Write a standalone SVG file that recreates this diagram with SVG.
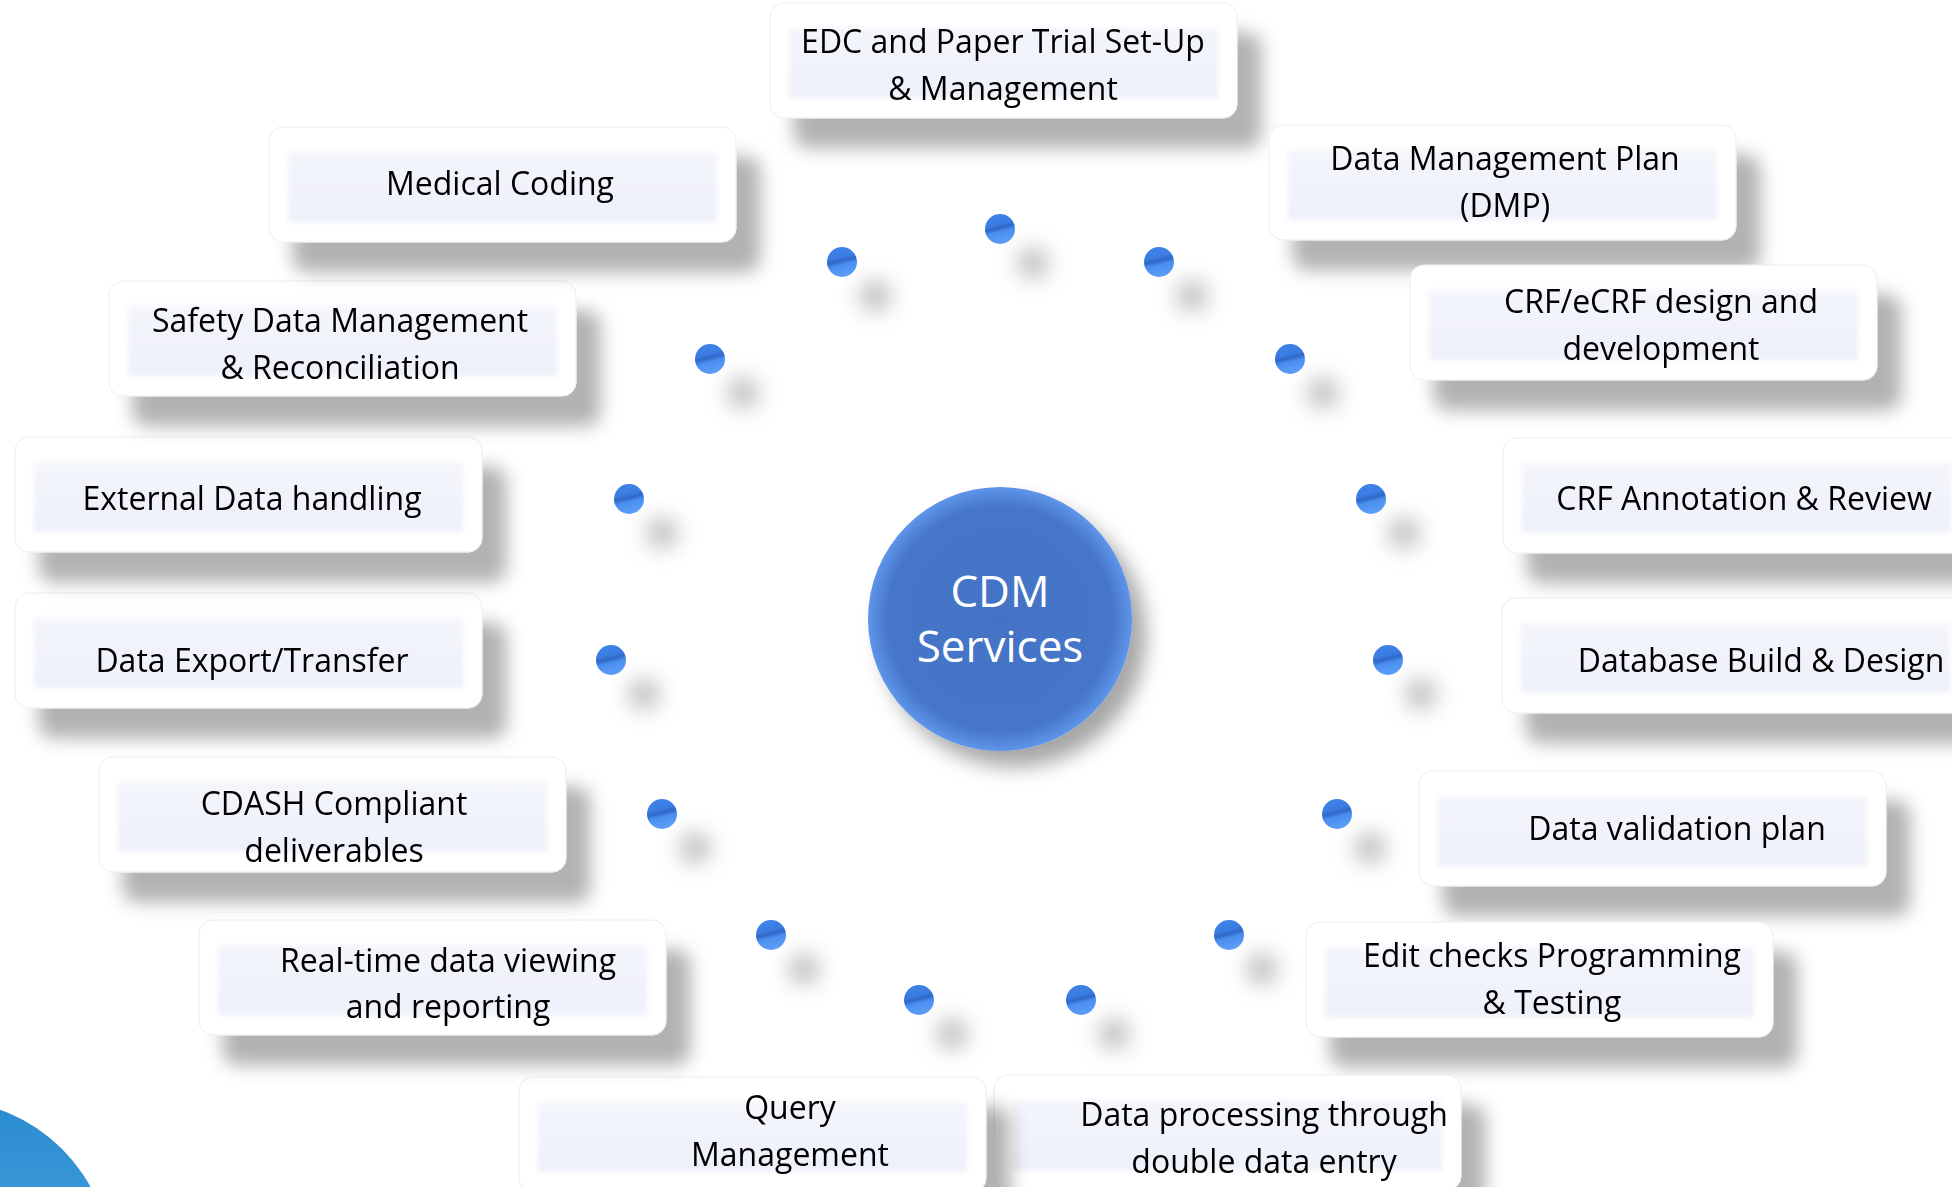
<svg xmlns="http://www.w3.org/2000/svg" width="1952" height="1187" viewBox="0 0 1952 1187">
<style>
.outer{fill:#ffffff;stroke:#ececf2;stroke-width:1}
.inner{fill:url(#panelGrad);filter:url(#soft)}
.box{filter:url(#boxShadow)}
.lbl{font-family:"Open Sans","Liberation Sans",sans-serif;font-size:32px;fill:#000;text-anchor:middle}
.dot{fill:url(#dotGrad);filter:url(#dotShadow)}
.hubtxt{font-family:"Open Sans","Liberation Sans",sans-serif;font-size:44px;fill:#fff;text-anchor:middle}
</style>
<defs>
<filter id="boxShadow" x="-10%" y="-20%" width="130%" height="180%">
<feDropShadow dx="24" dy="30" stdDeviation="9" flood-color="#000" flood-opacity="0.3"/>
</filter>
<filter id="soft" x="-5%" y="-10%" width="110%" height="120%">
<feGaussianBlur stdDeviation="2.5"/>
</filter>
<filter id="dotShadow" x="-150%" y="-150%" width="600%" height="600%">
<feDropShadow dx="33" dy="34" stdDeviation="11" flood-color="#000" flood-opacity="0.28"/>
</filter>
<filter id="hubShadow" x="-30%" y="-30%" width="170%" height="170%">
<feDropShadow dx="14" dy="16" stdDeviation="10" flood-color="#000" flood-opacity="0.35"/>
</filter>
<linearGradient id="panelGrad" x1="0" y1="0" x2="0" y2="1">
<stop offset="0" stop-color="#f4f5fc"/>
<stop offset="1" stop-color="#eef0fa"/>
</linearGradient>
<linearGradient id="dotGrad" x1="0" y1="0" x2="0.25" y2="1">
<stop offset="0" stop-color="#3f84ea"/>
<stop offset="0.42" stop-color="#3a7ce2"/>
<stop offset="0.55" stop-color="#3068c6"/>
<stop offset="0.68" stop-color="#4a8ef0"/>
<stop offset="1" stop-color="#5a9cf5"/>
</linearGradient>
<radialGradient id="hubGrad" cx="0.5" cy="0.5" r="0.5">
<stop offset="0" stop-color="#4472c4"/>
<stop offset="0.85" stop-color="#4676c8"/>
<stop offset="1" stop-color="#5f95ea"/>
</radialGradient>
<linearGradient id="cornerGrad" x1="0" y1="0" x2="0" y2="1">
<stop offset="0" stop-color="#2a8bd0"/>
<stop offset="1" stop-color="#5db5e5"/>
</linearGradient>
</defs>
<rect width="1952" height="1187" fill="#ffffff"/>
<circle id="corner" cx="-56" cy="1267" r="167" fill="url(#cornerGrad)"/>
<g id="connectors"></g>
<g id="dots">
<circle class="dot" cx="1000" cy="229" r="15"/>
<circle class="dot" cx="1159" cy="262" r="15"/>
<circle class="dot" cx="1290" cy="359" r="15"/>
<circle class="dot" cx="1371" cy="499" r="15"/>
<circle class="dot" cx="1388" cy="660" r="15"/>
<circle class="dot" cx="1337" cy="814" r="15"/>
<circle class="dot" cx="1229" cy="935" r="15"/>
<circle class="dot" cx="1081" cy="1000" r="15"/>
<circle class="dot" cx="919" cy="1000" r="15"/>
<circle class="dot" cx="771" cy="935" r="15"/>
<circle class="dot" cx="662" cy="814" r="15"/>
<circle class="dot" cx="611" cy="660" r="15"/>
<circle class="dot" cx="629" cy="499" r="15"/>
<circle class="dot" cx="710" cy="359" r="15"/>
<circle class="dot" cx="842" cy="262" r="15"/>
</g>
<g id="hub">
<circle cx="1000" cy="619" r="132" fill="url(#hubGrad)" filter="url(#hubShadow)"/>
<text class="hubtxt" x="1000" y="607">CDM</text>
<text class="hubtxt" x="1000" y="662">Services</text>
</g>
<g id="n-edc" class="box">
<rect class="outer" x="770" y="3" width="467" height="115" rx="14"/>
<rect class="inner" x="789" y="28" width="429" height="70"/>
<text class="lbl" x="1003" y="53">EDC and Paper Trial Set-Up</text>
<text class="lbl" x="1003" y="100">&amp; Management</text>
</g>
<g id="n-dmp" class="box">
<rect class="outer" x="1269" y="125" width="467" height="115" rx="14"/>
<rect class="inner" x="1288" y="150" width="429" height="70"/>
<text class="lbl" x="1505" y="170">Data Management Plan</text>
<text class="lbl" x="1505" y="217">(DMP)</text>
</g>
<g id="n-crf" class="box">
<rect class="outer" x="1410" y="265" width="467" height="115" rx="14"/>
<rect class="inner" x="1429" y="290" width="429" height="70"/>
<text class="lbl" x="1661" y="313">CRF/eCRF design and</text>
<text class="lbl" x="1661" y="360">development</text>
</g>
<g id="n-annot" class="box">
<rect class="outer" x="1503" y="438" width="467" height="115" rx="14"/>
<rect class="inner" x="1522" y="463" width="429" height="70"/>
<text class="lbl" x="1744" y="510">CRF Annotation &amp; Review</text>
</g>
<g id="n-db" class="box">
<rect class="outer" x="1502" y="598" width="467" height="115" rx="14"/>
<rect class="inner" x="1521" y="623" width="429" height="70"/>
<text class="lbl" x="1761" y="672">Database Build &amp; Design</text>
</g>
<g id="n-dvp" class="box">
<rect class="outer" x="1419" y="771" width="467" height="115" rx="14"/>
<rect class="inner" x="1438" y="796" width="429" height="70"/>
<text class="lbl" x="1677" y="840">Data validation plan</text>
</g>
<g id="n-edit" class="box">
<rect class="outer" x="1306" y="922" width="467" height="115" rx="14"/>
<rect class="inner" x="1325" y="947" width="429" height="70"/>
<text class="lbl" x="1552" y="967">Edit checks Programming</text>
<text class="lbl" x="1552" y="1014">&amp; Testing</text>
</g>
<g id="n-dde" class="box">
<rect class="outer" x="994" y="1075" width="467" height="115" rx="14"/>
<rect class="inner" x="1013" y="1100" width="429" height="70"/>
<text class="lbl" x="1264" y="1126">Data processing through</text>
<text class="lbl" x="1264" y="1173">double data entry</text>
</g>
<g id="n-query" class="box">
<rect class="outer" x="519" y="1077" width="467" height="115" rx="14"/>
<rect class="inner" x="538" y="1102" width="429" height="70"/>
<text class="lbl" x="790" y="1119">Query</text>
<text class="lbl" x="790" y="1166">Management</text>
</g>
<g id="n-realtime" class="box">
<rect class="outer" x="199" y="920" width="467" height="115" rx="14"/>
<rect class="inner" x="218" y="945" width="429" height="70"/>
<text class="lbl" x="448" y="972">Real-time data viewing</text>
<text class="lbl" x="448" y="1018">and reporting</text>
</g>
<g id="n-cdash" class="box">
<rect class="outer" x="99" y="757" width="467" height="115" rx="14"/>
<rect class="inner" x="118" y="782" width="429" height="70"/>
<text class="lbl" x="334" y="815">CDASH Compliant</text>
<text class="lbl" x="334" y="862">deliverables</text>
</g>
<g id="n-export" class="box">
<rect class="outer" x="15" y="593" width="467" height="115" rx="14"/>
<rect class="inner" x="34" y="618" width="429" height="70"/>
<text class="lbl" x="252" y="672">Data Export/Transfer</text>
</g>
<g id="n-external" class="box">
<rect class="outer" x="15" y="437" width="467" height="115" rx="14"/>
<rect class="inner" x="34" y="462" width="429" height="70"/>
<text class="lbl" x="252" y="510">External Data handling</text>
</g>
<g id="n-safety" class="box">
<rect class="outer" x="109" y="281" width="467" height="115" rx="14"/>
<rect class="inner" x="128" y="306" width="429" height="70"/>
<text class="lbl" x="340" y="332">Safety Data Management</text>
<text class="lbl" x="340" y="379">&amp; Reconciliation</text>
</g>
<g id="n-coding" class="box">
<rect class="outer" x="269" y="127" width="467" height="115" rx="14"/>
<rect class="inner" x="288" y="152" width="429" height="70"/>
<text class="lbl" x="500" y="195">Medical Coding</text>
</g>
</svg>
